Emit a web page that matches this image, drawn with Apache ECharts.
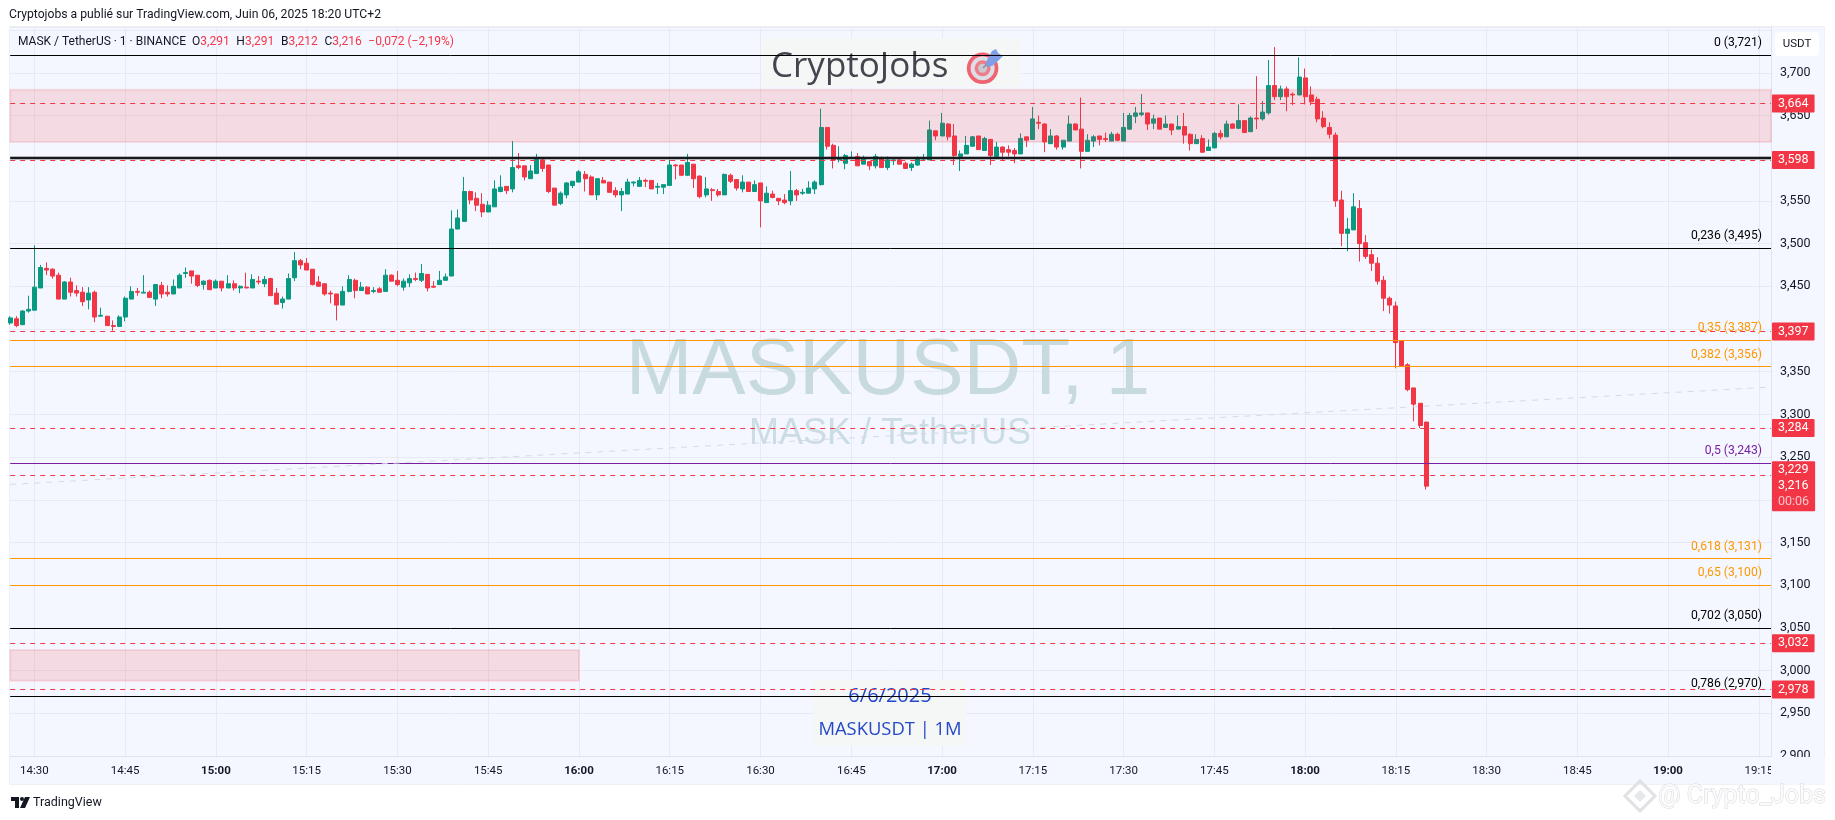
<!DOCTYPE html>
<html>
<head>
<meta charset="utf-8">
<style>html,body{margin:0;padding:0;background:#fff}#c{width:1835px;height:820px}</style>
<script src="https://cdn.jsdelivr.net/npm/echarts@6/dist/echarts.min.js"></script>
</head>
<body>
<div id="c"></div>
<script>
// Every row: open, high, low, close, one per minute from 14:26
const ohlc = [
[3.407,3.415,3.405,3.413],[3.412,3.415,3.402,3.404],[3.405,3.422,3.405,3.421],[3.421,3.439,3.419,3.423],[3.422,3.498,3.422,3.449],
[3.448,3.475,3.448,3.472],[3.471,3.478,3.463,3.469],[3.470,3.471,3.459,3.462],[3.463,3.466,3.435,3.435],[3.435,3.456,3.435,3.455],
[3.455,3.460,3.438,3.443],[3.445,3.451,3.438,3.442],[3.443,3.449,3.427,3.432],[3.434,3.449,3.423,3.442],[3.443,3.445,3.408,3.414],
[3.415,3.425,3.415,3.416],[3.415,3.415,3.404,3.404],[3.404,3.410,3.398,3.403],[3.403,3.416,3.403,3.414],[3.414,3.438,3.409,3.436],
[3.435,3.450,3.435,3.444],[3.444,3.448,3.439,3.443],[3.442,3.463,3.442,3.443],[3.443,3.445,3.437,3.437],[3.435,3.452,3.427,3.452],
[3.451,3.455,3.436,3.441],[3.443,3.451,3.438,3.441],[3.441,3.458,3.441,3.450],[3.448,3.465,3.448,3.463],[3.465,3.472,3.460,3.466],
[3.468,3.468,3.453,3.462],[3.463,3.463,3.449,3.451],[3.452,3.457,3.446,3.456],[3.457,3.458,3.446,3.446],[3.448,3.458,3.448,3.456],
[3.456,3.456,3.444,3.448],[3.448,3.463,3.448,3.453],[3.453,3.457,3.445,3.448],[3.448,3.451,3.442,3.450],[3.449,3.466,3.448,3.448],
[3.448,3.464,3.448,3.458],[3.456,3.462,3.452,3.455],[3.453,3.462,3.449,3.458],[3.459,3.460,3.439,3.439],[3.442,3.448,3.429,3.429],
[3.431,3.438,3.424,3.435],[3.435,3.465,3.435,3.459],[3.460,3.490,3.456,3.480],[3.480,3.482,3.470,3.475],[3.477,3.483,3.469,3.469],
[3.470,3.470,3.451,3.452],[3.455,3.462,3.450,3.450],[3.453,3.453,3.439,3.441],[3.442,3.445,3.430,3.441],[3.441,3.441,3.410,3.428],
[3.428,3.450,3.428,3.444],[3.444,3.463,3.443,3.458],[3.457,3.459,3.436,3.445],[3.445,3.455,3.445,3.449],[3.449,3.450,3.441,3.441],
[3.444,3.449,3.442,3.445],[3.447,3.449,3.443,3.443],[3.444,3.470,3.444,3.463],[3.463,3.464,3.456,3.456],[3.457,3.468,3.450,3.452],
[3.449,3.459,3.445,3.456],[3.454,3.464,3.449,3.459],[3.459,3.466,3.456,3.458],[3.457,3.476,3.455,3.465],[3.464,3.464,3.444,3.448],
[3.450,3.456,3.448,3.449],[3.452,3.468,3.452,3.457],[3.457,3.465,3.457,3.461],[3.462,3.539,3.462,3.517],[3.517,3.540,3.517,3.530],
[3.526,3.578,3.526,3.561],[3.561,3.562,3.546,3.551],[3.553,3.560,3.538,3.545],[3.546,3.559,3.531,3.537],[3.537,3.550,3.537,3.545],
[3.543,3.574,3.543,3.564],[3.561,3.580,3.560,3.566],[3.567,3.567,3.558,3.562],[3.564,3.620,3.560,3.589],[3.591,3.606,3.587,3.589],
[3.591,3.591,3.574,3.578],[3.576,3.592,3.576,3.585],[3.582,3.605,3.582,3.599],[3.598,3.601,3.584,3.588],[3.592,3.592,3.559,3.561],
[3.565,3.565,3.545,3.545],[3.547,3.561,3.545,3.559],[3.557,3.572,3.553,3.571],[3.568,3.573,3.565,3.573],[3.572,3.586,3.572,3.584],
[3.581,3.585,3.561,3.576],[3.578,3.580,3.557,3.557],[3.557,3.576,3.551,3.576],[3.574,3.578,3.571,3.571],[3.572,3.572,3.560,3.560],
[3.562,3.566,3.554,3.557],[3.557,3.565,3.538,3.561],[3.558,3.576,3.558,3.572],[3.571,3.573,3.567,3.572],[3.567,3.578,3.567,3.574],
[3.574,3.576,3.566,3.573],[3.574,3.574,3.564,3.564],[3.566,3.571,3.558,3.567],[3.566,3.569,3.558,3.569],[3.568,3.598,3.568,3.592],
[3.592,3.593,3.575,3.591],[3.592,3.592,3.579,3.580],[3.580,3.605,3.579,3.595],[3.593,3.593,3.565,3.576],[3.579,3.580,3.553,3.555],
[3.557,3.578,3.554,3.564],[3.563,3.565,3.550,3.562],[3.561,3.564,3.555,3.557],[3.557,3.582,3.557,3.581],[3.580,3.582,3.571,3.573],
[3.575,3.575,3.562,3.565],[3.564,3.580,3.560,3.572],[3.572,3.572,3.561,3.561],[3.561,3.574,3.561,3.569],[3.571,3.571,3.519,3.550],
[3.548,3.567,3.548,3.559],[3.558,3.562,3.553,3.554],[3.553,3.553,3.545,3.550],[3.551,3.558,3.546,3.548],[3.550,3.585,3.545,3.562],
[3.562,3.564,3.550,3.557],[3.559,3.564,3.557,3.560],[3.559,3.573,3.559,3.565],[3.564,3.574,3.558,3.572],[3.569,3.658,3.568,3.636],
[3.636,3.636,3.610,3.614],[3.615,3.617,3.588,3.598],[3.598,3.614,3.595,3.599],[3.594,3.605,3.587,3.603],[3.600,3.608,3.599,3.601],
[3.602,3.606,3.591,3.591],[3.593,3.603,3.593,3.599],[3.596,3.596,3.586,3.591],[3.591,3.605,3.588,3.602],[3.600,3.602,3.589,3.589],
[3.589,3.602,3.586,3.598],[3.597,3.598,3.592,3.598],[3.598,3.600,3.593,3.593],[3.594,3.596,3.588,3.588],[3.589,3.595,3.585,3.593],
[3.592,3.602,3.591,3.600],[3.599,3.605,3.598,3.600],[3.598,3.644,3.598,3.633],[3.632,3.632,3.621,3.626],[3.626,3.653,3.626,3.641],
[3.640,3.641,3.621,3.625],[3.626,3.640,3.592,3.603],[3.602,3.609,3.585,3.605],[3.605,3.626,3.605,3.615],[3.614,3.626,3.613,3.625],
[3.626,3.626,3.610,3.610],[3.609,3.625,3.609,3.623],[3.622,3.622,3.592,3.603],[3.602,3.619,3.602,3.613],[3.613,3.614,3.598,3.607],
[3.610,3.615,3.602,3.607],[3.609,3.612,3.594,3.605],[3.605,3.629,3.605,3.623],[3.625,3.625,3.613,3.621],[3.622,3.660,3.622,3.646],
[3.642,3.650,3.634,3.641],[3.640,3.641,3.607,3.619],[3.617,3.634,3.617,3.626],[3.626,3.627,3.610,3.613],[3.613,3.621,3.610,3.621],
[3.620,3.650,3.620,3.640],[3.640,3.641,3.633,3.633],[3.634,3.671,3.588,3.608],[3.608,3.628,3.608,3.621],[3.620,3.627,3.613,3.625],
[3.626,3.626,3.615,3.622],[3.623,3.630,3.619,3.622],[3.620,3.631,3.620,3.628],[3.628,3.630,3.620,3.621],[3.620,3.653,3.620,3.636],
[3.634,3.653,3.633,3.650],[3.649,3.660,3.641,3.653],[3.651,3.675,3.649,3.653],[3.653,3.653,3.633,3.640],[3.641,3.651,3.634,3.646],
[3.647,3.647,3.634,3.634],[3.636,3.650,3.636,3.640],[3.640,3.640,3.627,3.633],[3.634,3.650,3.634,3.637],[3.637,3.653,3.617,3.627],
[3.628,3.629,3.609,3.617],[3.617,3.628,3.617,3.622],[3.623,3.627,3.606,3.607],[3.609,3.622,3.609,3.613],[3.612,3.631,3.612,3.629],
[3.629,3.633,3.622,3.625],[3.625,3.644,3.625,3.640],[3.640,3.641,3.635,3.635],[3.635,3.663,3.634,3.644],[3.644,3.644,3.630,3.630],
[3.631,3.649,3.631,3.647],[3.647,3.696,3.634,3.646],[3.646,3.667,3.644,3.654],[3.653,3.715,3.651,3.685],[3.685,3.730,3.668,3.672],
[3.672,3.685,3.668,3.681],[3.681,3.684,3.655,3.672],[3.675,3.677,3.662,3.674],[3.674,3.718,3.674,3.695],[3.694,3.705,3.663,3.672],
[3.674,3.684,3.662,3.666],[3.669,3.672,3.642,3.646],[3.647,3.655,3.635,3.637],[3.636,3.642,3.623,3.628],[3.627,3.630,3.543,3.550],
[3.551,3.562,3.497,3.512],[3.512,3.530,3.491,3.517],[3.516,3.559,3.516,3.543],[3.541,3.551,3.479,3.500],[3.501,3.510,3.482,3.485],
[3.487,3.493,3.468,3.477],[3.477,3.484,3.452,3.456],[3.457,3.462,3.421,3.436],[3.436,3.438,3.418,3.428],[3.427,3.432,3.354,3.384],
[3.386,3.386,3.356,3.356],[3.358,3.360,3.327,3.329],[3.331,3.331,3.292,3.312],[3.313,3.313,3.284,3.287],[3.291,3.291,3.212,3.216]
];

const firstMinute = 14 * 60 + 26;
const lastMinute = 19 * 60 + 17;
const categories = [];
for (let m = firstMinute; m <= lastMinute; m++) {
  categories.push(String(Math.floor(m / 60)).padStart(2, '0') + ':' + String(m % 60).padStart(2, '0'));
}
const tickLabels = ['14:30','14:45','15:00','15:15','15:30','15:45','16:00','16:15','16:30','16:45','17:00','17:15','17:30','17:45','18:00','18:15','18:30','18:45','19:00','19:15'];
const boldTicks = ['15:00','16:00','17:00','18:00','19:00'];

const fibLevels = [
  {label:'0 (3,721)', value:3.721, color:'#000000'},
  {label:'0,236 (3,495)', value:3.495, color:'#000000'},
  {label:'0,35 (3,387)', value:3.387, color:'#ff9800'},
  {label:'0,382 (3,356)', value:3.356, color:'#ff9800'},
  {label:'0,5 (3,243)', value:3.243, color:'#7b1fa2'},
  {label:'0,618 (3,131)', value:3.131, color:'#ff9800'},
  {label:'0,65 (3,100)', value:3.100, color:'#ff9800'},
  {label:'0,702 (3,050)', value:3.050, color:'#000000'},
  {label:'0,786 (2,970)', value:2.970, color:'#000000'}
];
const heavyLevel = 3.601;
const redLevels = [3.664, 3.598, 3.397, 3.284, 3.032, 2.978];
const stackedLevel = 3.229;
const lastPrice = 3.216;
const countdown = '00:06';
const upperZone = [3.680, 3.619];
const lowerZone = [3.024, 2.988];
const lowerZoneEnd = '16:00';
const trendLine = [3.218, 3.332];

const RED = '#f23645', GREEN = '#089981', FONT = 'Roboto, "Noto Sans", sans-serif', INK = '#131722', GRID = '#e7eaf3', FRAME = '#f4f7ff';
const comma = v => v.toFixed(3).replace('.', ',');

const tagLabel = {
  show:true, position:'end', distance:1, color:'#fff', backgroundColor:RED, fontFamily:FONT, fontSize:12.5,
  padding:[3,6,2,6], borderRadius:1
};

const lines = [];
fibLevels.forEach(f => lines.push({
  yAxis:f.value,
  lineStyle:{color:f.color, width:1, type:'solid'},
  label:{show:true, position:'insideEndTop', distance:[9,6], formatter:f.label, color:f.color, fontFamily:FONT, fontSize:12.2}
}));
lines.push({yAxis:heavyLevel, lineStyle:{color:'rgba(60,60,60,0.35)', width:4, type:'solid'}, label:{show:false}});
lines.push({yAxis:heavyLevel, lineStyle:{color:'#17181c', width:2, type:'solid'}, label:{show:false}});
redLevels.forEach(v => lines.push({
  yAxis:v,
  lineStyle:{color:RED, width:1, type:[5,5]},
  label:Object.assign({}, tagLabel, {formatter:comma(v)})
}));
lines.push({yAxis:stackedLevel, lineStyle:{color:RED, width:1, type:[5,5]}, label:{show:false}});
lines.push({
  yAxis:lastPrice,
  lineStyle:{color:'rgba(0,0,0,0)', width:1, type:'solid'},
  label:{
    show:true, position:'end', distance:1, backgroundColor:RED, borderRadius:1, padding:[1,6,1,6],
    formatter:'{w|'+comma(stackedLevel)+'}\n{w|'+comma(lastPrice)+'}\n{t|'+countdown+'}',
    rich:{w:{color:'#fff', fontFamily:FONT, fontSize:12.5, lineHeight:16}, t:{color:'#fbc5ca', fontFamily:FONT, fontSize:12.5, lineHeight:16}}
  }
});
lines.push([
  {xAxis:categories[0], yAxis:trendLine[0], lineStyle:{color:'#d5dae3', width:1, type:[6,6]}, label:{show:false}},
  {xAxis:categories[categories.length-1], yAxis:trendLine[1]}
]);

const zoneStyle = {color:'rgba(242,54,69,0.15)', borderColor:'rgba(242,54,69,0.13)', borderWidth:2};

const legendRich = {
  k:{fill:INK, fontFamily:FONT, fontSize:12},
  r:{fill:RED, fontFamily:FONT, fontSize:12},
  g:{fill:INK, fontFamily:FONT, fontSize:9}
};

const chart = echarts.init(document.getElementById('c'), null, {renderer:'canvas', width:1835, height:820});
chart.setOption({
  animation:false,
  backgroundColor:'#ffffff',
  grid:{left:10.2, right:64, top:27, bottom:64, show:false},
  xAxis:{
    type:'category', data:categories, boundaryGap:false,
    axisLine:{show:true, lineStyle:{color:'#e0e3eb', width:1}},
    axisTick:{show:false},
    splitLine:{show:true, interval:(i,v)=>tickLabels.includes(v), lineStyle:{color:GRID, width:1}},
    axisLabel:{
      interval:(i,v)=>tickLabels.includes(v), margin:9, color:INK, fontFamily:FONT, fontSize:11.5,
      formatter:v=>boldTicks.includes(v)?'{b|'+v+'}':v,
      rich:{b:{color:INK, fontFamily:FONT, fontSize:11.5, fontWeight:'bold'}}
    }
  },
  yAxis:{
    type:'value', position:'right', min:2.9, max:3.7536, interval:0.05, scale:true,
    axisLine:{show:true, lineStyle:{color:'#e0e3eb', width:1}},
    axisTick:{show:false},
    splitLine:{show:true, lineStyle:{color:GRID, width:1}},
    axisLabel:{margin:9, color:INK, fontFamily:FONT, fontSize:12.5, showMaxLabel:false, showMinLabel:true, formatter:v=>v>3.71?'':comma(v)}
  },
  graphic:{elements:[
    {type:'rect', z:-1, shape:{x:9.5,y:26.5,width:1815,height:758}, style:{fill:FRAME, stroke:'#eef0f4', lineWidth:1}},
    {type:'text', z:1, x:888, y:372, style:{text:'MASKUSDT, 1', fill:'#c7dade', fontFamily:'"Liberation Sans", sans-serif', fontSize:80, align:'center', verticalAlign:'middle'}},
    {type:'text', z:1, x:890, y:434, style:{text:'MASK / TetherUS', fill:'#cbdde3', fontFamily:'"Liberation Sans", sans-serif', fontSize:36, align:'center', verticalAlign:'middle'}},
    {type:'rect', z:1, shape:{x:762,y:38,width:259,height:49}, style:{fill:'#f5f7f7'}},
    {type:'text', z:1, x:771, y:67, style:{text:'CryptoJobs', fill:'#43464e', fontFamily:'"Open Sans", sans-serif', fontSize:35, align:'left', verticalAlign:'middle'}},
    {type:'circle', z:1, shape:{cx:982.6,cy:68.3,r:15.8}, style:{fill:'#ef6472'}},
    {type:'circle', z:1, shape:{cx:982.6,cy:68.3,r:12}, style:{fill:'#dedee6'}},
    {type:'circle', z:1, shape:{cx:982.6,cy:68.3,r:8}, style:{fill:'#ee7e8a'}},
    {type:'circle', z:1, shape:{cx:982.6,cy:68.3,r:4.5}, style:{fill:'#c9c9d0'}},
    {type:'line', z:1, shape:{x1:983,y1:68,x2:997,y2:54}, style:{stroke:'#8a8f9a', lineWidth:1.5}},
    {type:'polygon', z:1, shape:{points:[[986,62],[992,51],[996,49],[998,53],[1003,56],[999,60],[992,66],[987,67]]}, style:{fill:'#7f9ee6'}},
    {type:'rect', z:1, shape:{x:813,y:680,width:153,height:66}, style:{fill:'#f5f7f7'}},
    {type:'text', z:1, x:890, y:696, style:{text:'6/6/2025', fill:'#2549c8', fontFamily:'"Open Sans", sans-serif', fontSize:20, align:'center', verticalAlign:'middle'}},
    {type:'text', z:1, x:890, y:730, style:{text:'MASKUSDT | 1M', fill:'#2549c8', fontFamily:'"Open Sans", sans-serif', fontSize:18.4, align:'center', verticalAlign:'middle'}},
    {type:'text', z:20, x:9, y:15, style:{text:'Cryptojobs a publié sur TradingView.com, Juin 06, 2025 18:20 UTC+2', fill:INK, fontFamily:FONT, fontSize:12.2, align:'left', verticalAlign:'middle'}},
    {type:'text', z:20, x:18, y:42, style:{
      text:'{k|MASK / TetherUS · 1 · BINANCE  O}{r|3,291}{g|   }{k|H}{r|3,291}{g|   }{k|B}{r|3,212}{g|   }{k|C}{r|3,216}{g|   }{r|−0,072 (−2,19%)}',
      rich:legendRich, align:'left', verticalAlign:'middle'}},
    {type:'rect', z:20, shape:{x:1771,y:757,width:54,height:27.5}, style:{fill:FRAME}},
    {type:'rect', z:20, shape:{x:1775,y:32,width:44,height:24,r:4}, style:{fill:'#ffffff'}},
    {type:'text', z:21, x:1797, y:44, style:{text:'USDT', fill:INK, fontFamily:FONT, fontSize:11.5, align:'center', verticalAlign:'middle'}},
    {type:'polygon', z:20, shape:{points:[[11,797],[19,797],[19,808],[15,808],[15,801],[11,801]]}, style:{fill:INK}},
    {type:'circle', z:20, shape:{cx:22,cy:799,r:2}, style:{fill:INK}},
    {type:'polygon', z:20, shape:{points:[[25,797],[30,797],[25,808],[20,808]]}, style:{fill:INK}},
    {type:'text', z:20, x:33, y:803, style:{text:'TradingView', fill:INK, fontFamily:FONT, fontSize:12.5, align:'left', verticalAlign:'middle'}},
    {type:'polygon', z:20, shape:{points:[[1640,781],[1655,796],[1640,811],[1625,796]]}, style:{fill:'none', stroke:'#dfe1e4', lineWidth:3}},
    {type:'polygon', z:20, shape:{points:[[1640,790],[1646,796],[1640,802],[1634,796]]}, style:{fill:'#e6e8ea'}},
    {type:'text', z:20, x:1658, y:797, style:{text:'@ Crypto_Jobs', fill:'#fbfbfc', stroke:'#d5d8dc', lineWidth:1, fontFamily:FONT, fontSize:25, align:'left', verticalAlign:'middle'}}
  ]},
  series:[{
    type:'candlestick',
    data:ohlc.map(r=>[r[0],r[3],r[2],r[1]]),
    barWidth:4.5,
    itemStyle:{color:GREEN, color0:RED, borderColor:GREEN, borderColor0:RED, borderWidth:1},
    markArea:{
      silent:true, z:3,
      data:[
        [{yAxis:upperZone[0], itemStyle:zoneStyle},{yAxis:upperZone[1]}],
        [{xAxis:categories[0], yAxis:lowerZone[0], itemStyle:zoneStyle},{xAxis:lowerZoneEnd, yAxis:lowerZone[1]}]
      ]
    },
    markLine:{silent:true, z:5, symbol:['none','none'], precision:3, animation:false, data:lines}
  }]
});
</script>
</body>
</html>
